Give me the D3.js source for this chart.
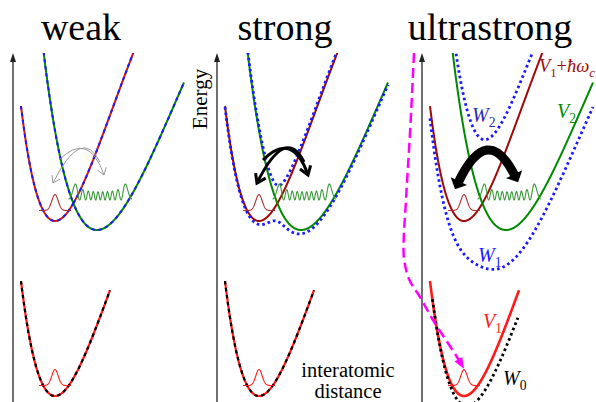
<!DOCTYPE html>
<html>
<head>
<meta charset="utf-8">
<script src="https://cdn.jsdelivr.net/npm/d3@7"></script>
<style>
  body { margin: 0; background: #fff; }
  svg { display: block; }
  text { font-family: "Liberation Serif", "DejaVu Serif", serif; }
</style>
</head>
<body>
<svg id="chart" width="596" height="402"></svg>
<script>
// ---- model data -------------------------------------------------------
const regimes = ["weak", "strong", "ultrastrong"];
const coupling = [0, 1.8, 6.4];            // light-matter coupling g per regime
const photonEnergy = 17.5;                 // cavity photon energy  ħωc
// Morse potentials: [equilibrium distance, width a, depth D, minimum energy]
const morseV1 = [4.2, 0.12, 45.3, 0.6];    // ground electronic state
const morseV2 = [8.4, 0.085, 54, 17.2];    // excited electronic state
const morseW0 = [4.5, 0.115, 45, -0.4];    // ground polariton (ultrastrong)
// distance ranges of the drawn curves
const rangeV1 = [0.8, 9.7];
const rangeUpper = [0.8, 17.1];
const rangeW0 = [1.05, 9.6];
const energyMax = 34.9;
// vibrational wavefunctions
const zeroPoint = 1.05;                    // v = 0 level above the minimum
const groundWave = [1.6, 0.45, 1.6];       // [amplitude, width, half-span]
const excitedWave = [20.2, 9, 1.6];        // [level energy, quantum number, amplitude]
// path of the transition into the ground polariton (distance, energy)
const transitionPath = [[-0.8, 34.9], [-1.2, 26.9], [-1.6, 20.2], [-1.85, 15.2], [-1.3, 12.3],
                        [-0.2, 10.5], [1.1, 8.2], [3.5, 4.5], [4.1, 3.5]];

// ---- layout ------------------------------------------------------------
const W = 596, H = 402;
const panelX = [13, 217, 422];
const svg = d3.select("#chart");
const y = d3.scaleLinear().domain([0, energyMax]).range([H, 53]);
const xScales = panelX.map(px => d3.scaleLinear().domain([0, 17.4]).range([px, px + 174]));

const col = {
  darkRed: "#a00808", weakRed: "#c81c1c", red: "#ff1a1a", green: "#008a00",
  blue: "#1a1aff", label: "#2b2bb0", wave: "#3a9a3a", gauss: "#a83030"
};

svg.append("defs").append("clipPath").attr("id", "plotClip")
  .append("rect").attr("x", 0).attr("y", 53).attr("width", W).attr("height", H - 53);

// ---- model functions ---------------------------------------------------
const morse = (p, r) => { const e = 1 - Math.exp(-p[1] * (r - p[0])); return p[3] + p[2] * e * e; };
const V1 = r => morse(morseV1, r);
const V1c = r => morse(morseV1, r) + photonEnergy;
const V2 = r => morse(morseV2, r);
const polariton = (g, sign) => r => {
  const a = V1c(r), b = V2(r);
  return (a + b) / 2 + sign * Math.sqrt((a - b) * (a - b) / 4 + g * g);
};
const sample = (f, r0, r1, step = 0.02) =>
  d3.range(r0, r1 + step / 2, step).map(r => [r, f(r)]);
function hermite(n, t) {
  let h0 = 1, h1 = 2 * t;
  if (n === 0) return h0;
  for (let k = 1; k < n; k++) { const h2 = 2 * t * h1 - 2 * k * h0; h0 = h1; h1 = h2; }
  return h1;
}
// classical turning points of a Morse well at energy E
function turning(p, E) {
  const s = Math.sqrt((E - p[3]) / p[2]);
  return [p[0] - Math.log(1 + s) / p[1], p[0] - Math.log(1 - s) / p[1]];
}

// ---- drawing -----------------------------------------------------------
regimes.forEach((name, i) => {
  const x = xScales[i];
  const line = d3.line().x(d => x(d[0])).y(d => y(d[1]));
  const g = svg.append("g").attr("class", "panel-" + name);
  const curves = g.append("g").attr("clip-path", "url(#plotClip)");

  // energy axis
  const axis = d3.axisRight(y).ticks(0).tickSizeOuter(0);
  const ax = g.append("g").attr("transform", `translate(${panelX[i]},0)`).call(axis);
  ax.select(".domain").attr("stroke", "#222").attr("stroke-width", 1.3)
    .attr("d", `M0,${y(energyMax) + 6}V${H}`);
  ax.append("path").attr("d", `M-3,${y(energyMax) + 9}L0,${y(energyMax)}L3,${y(energyMax) + 9}Z`)
    .attr("fill", "#222");

  // title
  g.append("text").attr("x", x(6.8)).attr("y", 40).attr("text-anchor", "middle")
    .attr("font-size", 38).attr("fill", "#000").text(name);

  const upperRed = sample(V1c, rangeUpper[0], 14);
  const upperGreen = sample(V2, 2, rangeUpper[1]);
  const lowerRed = sample(V1, rangeV1[0], rangeV1[1]);
  const wUp = sample(polariton(coupling[i], 1), 2, 14);
  const wLow = sample(polariton(coupling[i], -1), rangeUpper[0], rangeUpper[1]);

  const redColor = i === 0 ? col.weakRed : col.darkRed;
  curves.append("path").attr("d", line(upperRed)).attr("fill", "none")
    .attr("stroke", redColor).attr("stroke-width", 2);
  curves.append("path").attr("d", line(upperGreen)).attr("fill", "none")
    .attr("stroke", col.green).attr("stroke-width", 2);

  if (i === 0) {
    [wUp, wLow].forEach(d => curves.append("path").attr("d", line(d)).attr("fill", "none")
      .attr("stroke", col.blue).attr("stroke-width", 2).attr("stroke-dasharray", "3.5,3.5"));
  } else {
    [wUp, wLow].forEach(d => curves.append("path").attr("d", line(d)).attr("fill", "none")
      .attr("stroke", col.blue).attr("stroke-width", 2.8).attr("stroke-dasharray", "2.6,3"));
  }

  // ground-state curves
  curves.append("path").attr("d", line(lowerRed)).attr("fill", "none")
    .attr("stroke", col.red).attr("stroke-width", i === 2 ? 2.6 : 2.2);
  if (i < 2) {
    curves.append("path").attr("d", line(lowerRed)).attr("fill", "none")
      .attr("stroke", "#000").attr("stroke-width", 2.2).attr("stroke-dasharray", "3.5,3.5");
  } else {
    curves.append("path").attr("d", line(sample(r => morse(morseW0, r), rangeW0[0], rangeW0[1])))
      .attr("fill", "none").attr("stroke", "#000").attr("stroke-width", 2.8)
      .attr("stroke-dasharray", "2.6,3");
  }

  // v = 0 wavefunctions on the two V1 curves
  const [gAmp, gW, gSpan] = groundWave;
  const gauss = offset => sample(r => offset + morseV1[3] + zeroPoint +
      gAmp * Math.exp(-(((r - morseV1[0]) / gW) ** 2)), morseV1[0] - gSpan, morseV1[0] + gSpan);
  g.append("path").attr("d", line(gauss(photonEnergy))).attr("fill", "none")
    .attr("stroke", col.gauss).attr("stroke-width", 1.1);
  g.append("path").attr("d", line(gauss(0))).attr("fill", "none")
    .attr("stroke", col.red).attr("stroke-width", 1.1);

  // highly excited vibrational state on V2
  const [lev, n, amp] = excitedWave;
  const [rl, rr] = turning(morseV2, lev);
  const xiMax = Math.sqrt(2 * n + 1), mid = (rl + rr) / 2, sc = (rr - rl) / (2 * xiMax);
  const xis = d3.range(-xiMax - 0.55, xiMax + 0.55, 0.01);
  const dens = xis.map(t => (hermite(n, t) ** 2) * Math.exp(-t * t));
  const dMax = d3.max(dens);
  const wave = xis.map((t, k) => [mid + t * sc, lev + amp * dens[k] / dMax]);
  g.append("path").attr("d", line(wave)).attr("fill", "none")
    .attr("stroke", col.wave).attr("stroke-width", 1.1);

  // transfer arrows
  const P = (r, E) => [x(r), y(E)];
  const arc = (p0, c, p1) => { const p = d3.path(); p.moveTo(...p0); p.quadraticCurveTo(...c, ...p1); return p.toString(); };
  const chevron = (c, p1, len, spread) => {
    const ang = Math.atan2(p1[1] - c[1], p1[0] - c[0]);
    const a1 = ang + Math.PI - spread, a2 = ang + Math.PI + spread;
    return `M${p1[0] + len * Math.cos(a1)},${p1[1] + len * Math.sin(a1)}L${p1[0]},${p1[1]}L${p1[0] + len * Math.cos(a2)},${p1[1] + len * Math.sin(a2)}`;
  };
  if (i < 2) {
    const stroke = i === 0 ? "#9a9a9a" : "#000", sw = i === 0 ? 1 : 3, hl = i === 0 ? 8 : 10;
    const arcs = [
      [P(8.7, 24.0), P(6.85, 27.65), P(4.0, 21.9)],
      [P(4.6, 24.2), P(7.55, 27.15), P(9.1, 22.7)]
    ];
    arcs.forEach(([p0, c, p1]) => {
      g.append("path").attr("d", arc(p0, c, p1)).attr("fill", "none")
        .attr("stroke", stroke).attr("stroke-width", sw);
      g.append("path").attr("d", chevron(c, p1, hl, 0.6)).attr("fill", "none")
        .attr("stroke", stroke).attr("stroke-width", sw).attr("stroke-linejoin", "miter");
    });
  } else {
    const p0 = P(3.6, 21.9), c = P(6.55, 28.15), p1 = P(9.3, 22.6);
    g.append("path").attr("d", arc(p0, c, p1)).attr("fill", "none")
      .attr("stroke", "#000").attr("stroke-width", 9);
    [[p0, c], [p1, c]].forEach(([tip, cc]) => {
      const ang = Math.atan2(tip[1] - cc[1], tip[0] - cc[0]);
      const px = -Math.sin(ang), py = Math.cos(ang);
      const bx = tip[0] - 2 * Math.cos(ang), by = tip[1] - 2 * Math.sin(ang);
      const fx = tip[0] + 7 * Math.cos(ang), fy = tip[1] + 7 * Math.sin(ang);
      g.append("path").attr("fill", "#000")
        .attr("d", `M${bx + 9 * px},${by + 9 * py}L${fx},${fy}L${bx - 9 * px},${by - 9 * py}Z`);
    });
  }
});

// ---- annotations -------------------------------------------------------
const xu = xScales[2];
function label(r, E, color, parts, size = 20) {
  const t = svg.append("text").attr("x", xu(r)).attr("y", y(E)).attr("fill", color).attr("font-size", size);
  parts.forEach(([txt, style]) => {
    const s = t.append("tspan").text(txt);
    if (style.includes("i")) s.attr("font-style", "italic");
    if (style.includes("sub")) s.attr("font-size", size * 0.68).attr("dy", 5);
    if (style.includes("up")) s.attr("dy", -5);
  });
}
label(11.7, 33.0, col.darkRed, [["V", "i"], ["1", "sub"], ["+", "up"], ["ħ", "i"], ["ω", "i"], ["c", "i sub"]], 18.5);
label(13.5, 28.4, col.green, [["V", "i"], ["2", "sub"]]);
label(5.0, 28.0, col.label, [["W", "i"], ["2", "sub"]]);
label(5.6, 14.0, col.blue, [["W", "i"], ["1", "sub"]]);
label(6.1, 7.4, col.red, [["V", "i"], ["1", "sub"]]);
label(8.1, 1.7, "#000", [["W", "i"], ["0", "sub"]]);

// energy axis title
svg.append("text").attr("transform", `translate(${xScales[1](-1.0)},${y(30.3)}) rotate(-90)`)
  .attr("text-anchor", "middle").attr("font-size", 21).text("Energy");
// distance axis title
const xs = xScales[1];
svg.append("text").attr("x", xs(13.1)).attr("y", y(2.5)).attr("text-anchor", "middle")
  .attr("font-size", 20.5).text("interatomic");
svg.append("text").attr("x", xs(13.1)).attr("y", y(0.45)).attr("text-anchor", "middle")
  .attr("font-size", 20.5).text("distance");

// transition into the ground polariton
const mline = d3.line().x(d => xu(d[0])).y(d => y(d[1])).curve(d3.curveMonotoneY);
svg.append("path").attr("d", mline(transitionPath)).attr("fill", "none").attr("stroke", "#ff00ff")
  .attr("stroke-width", 2.5).attr("stroke-dasharray", "10,5");
{
  const m = transitionPath.length;
  const a = [xu(transitionPath[m - 2][0]), y(transitionPath[m - 2][1])];
  const b = [xu(transitionPath[m - 1][0]), y(transitionPath[m - 1][1])];
  const ang = Math.atan2(b[1] - a[1], b[0] - a[0]);
  const tip = [b[0] + 2 * Math.cos(ang), b[1] + 2 * Math.sin(ang)];
  const back = [tip[0] - 11 * Math.cos(ang), tip[1] - 11 * Math.sin(ang)];
  const px = -Math.sin(ang), py = Math.cos(ang);
  svg.append("path").attr("fill", "#ff00ff")
    .attr("d", `M${tip}L${back[0] + 4.5 * px},${back[1] + 4.5 * py}L${back[0] - 4.5 * px},${back[1] - 4.5 * py}Z`);
}
</script>
</body>
</html>
